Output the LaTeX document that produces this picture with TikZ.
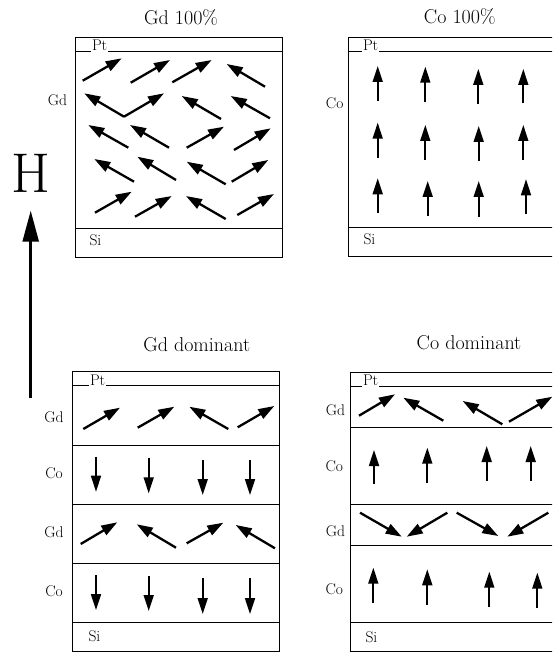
\documentclass[tikz,border=0pt]{standalone}
\usetikzlibrary{arrows.meta}
\begin{document}
\begin{tikzpicture}[x=1pt,y=-1pt,
  spin/.style={line width=2.3pt,-{Triangle[length=16pt,width=10.5pt]}},
  vspin/.style={line width=1.7pt,-{Triangle[length=16pt,width=10pt]}},
  layer/.style={line width=0.8pt},
  lab/.style={font=\fontsize{15.5}{15.5}\selectfont},
  ptlab/.style={font=\fontsize{15.5}{15.5}\selectfont,fill=white,inner sep=0.8pt,anchor=base west},
  silab/.style={font=\fontsize{15.5}{15.5}\selectfont,anchor=west},
  ttl/.style={font=\fontsize{20}{20}\selectfont,anchor=base}]
\clip (0,0) rectangle (552,652);
\fill[white] (0,0) rectangle (552,652);

% ---------- titles ----------
\node[ttl] (t1) at (181,25) {Gd 100\%};
\node[ttl] (t2) at (459.7,23.5) {Co 100\%};
\node[ttl] (t3) at (196.7,351) {Gd dominant};
\node[ttl] (t4) at (469,349) {Co dominant};

% ---------- H field ----------
\node[font=\fontsize{56}{56}\selectfont] (H) at (30.5,173) {H};
\coordinate (Hbot) at (30.7,398);
\coordinate (Htop) at (30.7,210.7);
\draw[line width=2.5pt,-{Triangle[length=31pt,width=16pt]}] (Hbot) -- (Htop);

% ---------- Gd 100% ----------
\draw[layer] (75,37.3) rectangle (282,257);
\draw[layer] (75,51) -- (282,51);
\draw[layer] (75,228) -- (282,228);
\node[ptlab] (pt1) at (91,50.8) {Pt};
\node[lab] (g1) at (57.5,100) {Gd};
\node[silab] (s1) at (86,240) {Si};
\draw[spin] (82.7,80.7) -- (121.7,58.3);
\draw[spin] (130.7,82.7) -- (170,60);
\draw[spin] (172.3,82.3) -- (211.7,60);
\draw[spin] (265,86.7) -- (226.7,64);
\draw[spin] (124,116.7) -- (84.3,93.3);
\draw[spin] (124,116.7) -- (164,93.3);
\draw[spin] (221,119) -- (181.7,96);
\draw[spin] (270,118.3) -- (230.7,96);
\draw[spin] (128.3,147.7) -- (88.3,125);
\draw[spin] (169,147.7) -- (130,125);
\draw[spin] (186.7,147.7) -- (224,126.7);
\draw[spin] (234,150) -- (270.7,128.3);
\draw[spin] (134,181.7) -- (94.3,159);
\draw[spin] (176,180) -- (137.3,156.7);
\draw[spin] (225.7,184.3) -- (186.7,161.7);
\draw[spin] (231.7,181.7) -- (268.3,160);
\draw[spin] (95,212.7) -- (131.7,191.7);
\draw[spin] (135,216.7) -- (171.7,196);
\draw[spin] (225.7,219) -- (186,196);
\draw[spin] (237.3,215) -- (274,194);

% ---------- Co 100% ----------
\draw[layer] (348.3,37.3) rectangle (570,256);
\draw[layer] (348.3,51) -- (570,51);
\draw[layer] (348.3,227.7) -- (570,227.7);
\node[ptlab] (pt2) at (362,50.8) {Pt};
\node[lab] (c1) at (334.7,103.3) {Co};
\node[silab] (s2) at (360,239) {Si};
\draw[vspin] (377.7,101) -- (377.7,66);
\draw[vspin] (425.3,102) -- (425.3,66.7);
\draw[vspin] (478.3,104) -- (478.3,69);
\draw[vspin] (523.3,103.3) -- (523.3,69);
\draw[vspin] (377.7,157.7) -- (377.7,122.7);
\draw[vspin] (425.3,160) -- (425.3,125);
\draw[vspin] (478.7,160.7) -- (478.7,126);
\draw[vspin] (523.3,160) -- (523.3,125);
\draw[vspin] (377.7,213.3) -- (377.7,178.3);
\draw[vspin] (427.7,216) -- (427.7,181);
\draw[vspin] (478.7,216.7) -- (478.7,181);
\draw[vspin] (526,214) -- (526,179.3);

% ---------- Gd dominant ----------
\draw[layer] (72.3,371.7) rectangle (279.3,651.3);
\foreach \yy in {385.7,445,504,563.3,622.7} \draw[layer] (72.3,\yy) -- (279.3,\yy);
\node[ptlab] (pt3) at (89,385.5) {Pt};
\node[lab] (g3a) at (54,417) {Gd};
\node[lab] (c3a) at (54,473) {Co};
\node[lab] (g3b) at (54,532) {Gd};
\node[lab] (c3b) at (54,591) {Co};
\node[silab] (s3) at (85,636) {Si};
\draw[spin] (83.3,429) -- (120,407.7);
\draw[spin] (137.7,427.7) -- (174.3,406.7);
\draw[spin] (228.3,429) -- (189.3,406.7);
\draw[spin] (237.7,427.3) -- (274.3,406);
\draw[vspin] (96,456.7) -- (96,491.7);
\draw[vspin] (148.7,457.7) -- (148.7,493.3);
\draw[vspin] (202.7,460) -- (202.7,495);
\draw[vspin] (250,460) -- (250,495);
\draw[spin] (80.7,544) -- (117.3,522.3);
\draw[spin] (176,547.7) -- (136.7,524.3);
\draw[spin] (186.7,543.3) -- (223.3,522.7);
\draw[spin] (275,548.3) -- (235.7,525);
\draw[vspin] (96,575) -- (96,610);
\draw[vspin] (148.7,576) -- (148.7,611);
\draw[vspin] (202.7,578.3) -- (202.7,614);
\draw[vspin] (250,578.3) -- (250,614);

% ---------- Co dominant ----------
\draw[layer] (350.7,372.3) rectangle (570,651.3);
\foreach \yy in {386,427.3,504,545.7,622.7} \draw[layer] (350.7,\yy) -- (570,\yy);
\node[ptlab] (pt4) at (362,385.8) {Pt};
\node[lab] (g4a) at (335.5,410) {Gd};
\node[lab] (c4a) at (334.3,466.7) {Co};
\node[lab] (g4b) at (335.5,531) {Gd};
\node[lab] (c4b) at (334.3,589.3) {Co};
\node[silab] (s4) at (362,637) {Si};
\draw[spin] (359,415.7) -- (395,394.3);
\draw[spin] (443.3,420.7) -- (403.3,397.7);
\draw[spin] (502.3,424.3) -- (462.7,401);
\draw[spin] (509,421.7) -- (552.3,396.7);
\draw[vspin] (374,484) -- (374,450);
\draw[vspin] (427.3,483.3) -- (427.3,447.7);
\draw[vspin] (486.7,480.7) -- (486.7,446);
\draw[vspin] (530.7,480.7) -- (530.7,446);
\draw[spin] (360,512.7) -- (401.7,536.7);
\draw[spin] (447.3,512.7) -- (406.7,536.7);
\draw[spin] (456.7,512.7) -- (498.3,536);
\draw[spin] (548.3,512.7) -- (507.3,536.7);
\draw[vspin] (373.3,602.7) -- (373.3,567.7);
\draw[vspin] (427.3,605) -- (427.3,569.3);
\draw[vspin] (489.3,606.7) -- (489.3,571.7);
\draw[vspin] (537.3,607.7) -- (537.3,572.7);
\end{tikzpicture}
\end{document}
